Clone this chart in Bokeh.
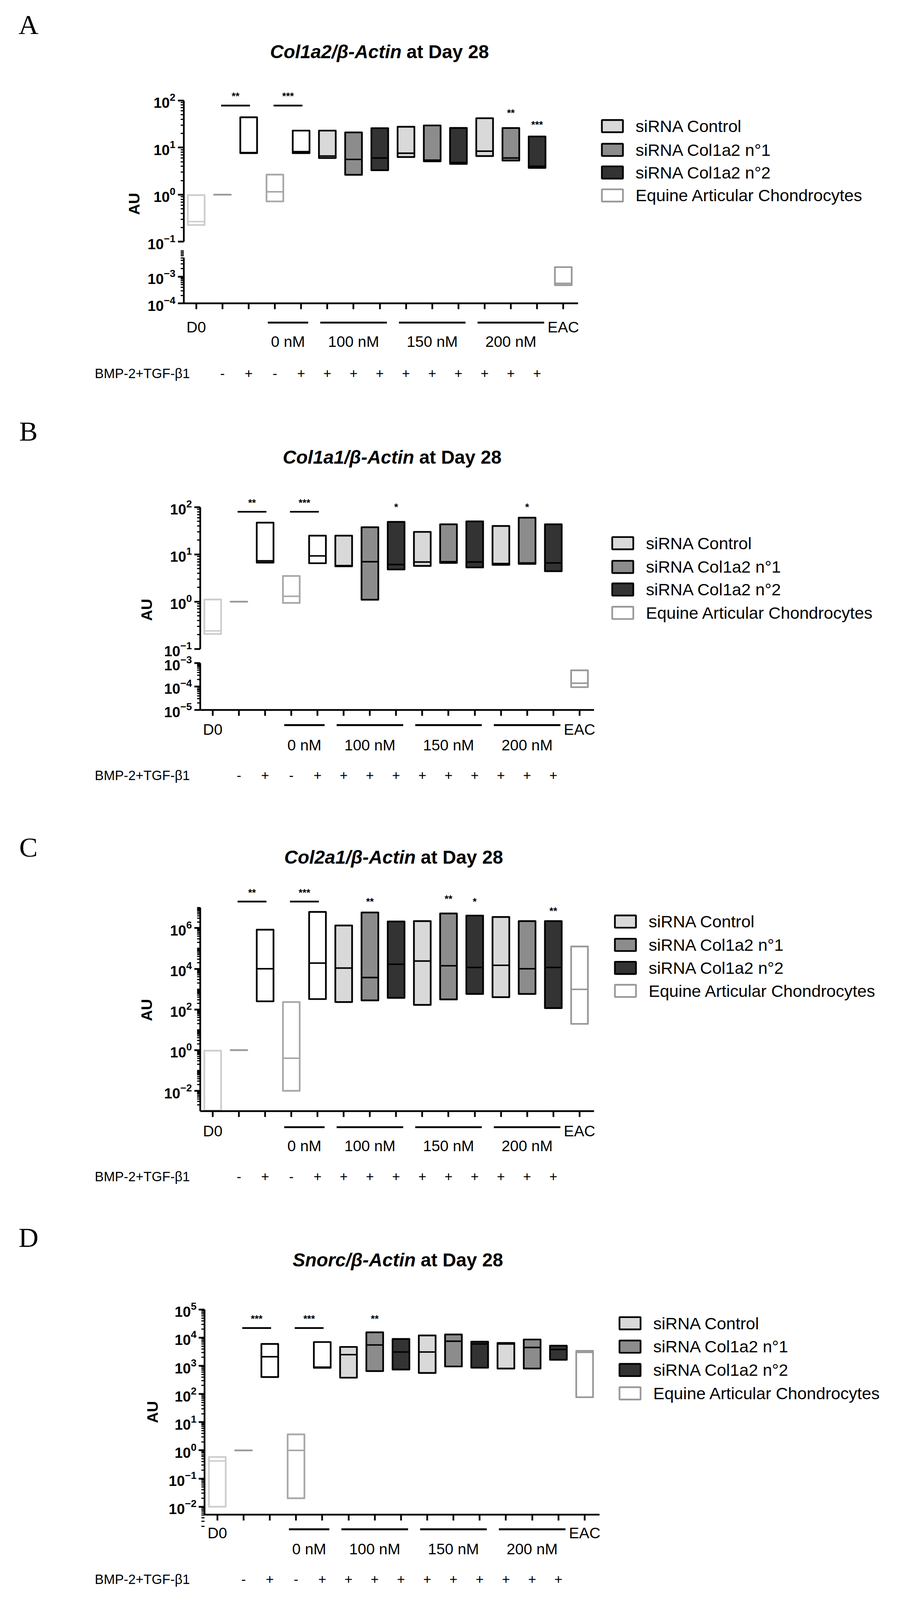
import math
from bokeh.plotting import figure
from bokeh.models import (Range1d, LogScale, LinearScale, LogAxis, LinearAxis,
                          FixedTicker, ColumnDataSource)
from bokeh.embed import file_html
from bokeh.resources import INLINE
from bokeh.core.properties import value

# ---------------------------------------------------------------- data
POSITIONS = list(range(1, 16))
BMP_POSITIONS = list(range(2, 15))
BMP_SIGNS = ["-", "+", "-", "+", "+", "+", "+", "+", "+", "+", "+", "+", "+"]
GROUP_LABELS = ["0 nM", "100 nM", "150 nM", "200 nM"]
GROUP_FIRST = [4, 6, 9, 12]
GROUP_LAST = [5, 8, 11, 14]
END_LABELS = ["D0", "EAC"]
END_POSITIONS = [1, 15]
ROLES = ["d0", "ref", "bmp", "neg", "bmp", "c", "n1", "n2", "c", "n1", "n2", "c", "n1", "n2", "eac"]
LEGEND_LABELS = ["siRNA Control", "siRNA Col1a2 n°1", "siRNA Col1a2 n°2", "Equine Articular Chondrocytes"]
LEGEND_ROLES = ["c", "n1", "n2", "eac"]
GENES = ["Col1a2", "Col1a1", "Col2a1", "Snorc"]
LETTERS = ["A", "B", "C", "D"]
BMP_TEXT = "BMP-2+TGF-β1"

# Panel A : Col1a2
A_MIN = [0.227, 1.0, 7.6, 0.72, 7.6, 6.0, 2.64, 3.3, 6.3, 5.1, 4.5, 6.6, 5.3, 3.7, 4.8e-4]
A_MAX = [0.98, 1.0, 44, 2.67, 22.9, 22.9, 21, 25.8, 27.7, 29.5, 26.1, 42, 26, 17.2, 2.26e-3]
A_MED = [0.268, 1.0, 7.8, 1.15, 8.2, 6.6, 5.6, 6.0, 7.6, 5.4, 4.8, 8.4, 6.0, 4.0, 5.6e-4]
A_BAR_FROM = [2, 4]
A_BAR_TO = [3, 5]
A_BAR_TEXT = ["**", "***"]
A_BAR_Y = [78, 78]
A_BAR_STAR_Y = [125, 125]
A_STAR_X = [13, 14]
A_STAR_TEXT = ["**", "***"]
A_STAR_Y = [54, 31]

# Panel B : Col1a1
B_MIN = [0.207, 1.0, 6.7, 0.94, 6.5, 5.6, 1.1, 4.8, 5.7, 6.6, 5.3, 6.0, 6.3, 4.4, 9.3e-5]
B_MAX = [1.11, 1.0, 47, 3.5, 25, 25, 37.6, 48.9, 30, 43.4, 50, 40, 60, 43.4, 4.9e-4]
B_MED = [0.24, 1.0, 7.3, 1.3, 9.3, 5.8, 7.0, 6.1, 6.9, 7.0, 6.9, 6.4, 6.6, 6.6, 1.37e-4]
B_BAR_FROM = [2, 4]
B_BAR_TO = [3, 5]
B_BAR_TEXT = ["**", "***"]
B_BAR_Y = [80, 80]
B_BAR_STAR_Y = [125, 125]
B_STAR_X = [8, 13]
B_STAR_TEXT = ["*", "*"]
B_STAR_Y = [100, 100]

# Panel C : Col2a1
C_MIN = [1.0e-3, 1.0, 251, 0.01, 323, 230, 278, 372, 167, 310, 578, 400, 578, 116, 19.5]
C_MAX = [0.94, 1.0, 8.3e5, 230, 6.2e6, 1.34e6, 5.8e6, 2.1e6, 2.2e6, 5.2e6, 4.1e6, 3.5e6, 2.2e6, 2.2e6, 1.24e5]
C_MED = [1.1e-3, 1.0, 1.0e4, 0.4, 1.9e4, 1.08e4, 3700, 1.67e4, 2.4e4, 1.4e4, 1.16e4, 1.48e4, 1.0e4, 1.16e4, 970]
C_BAR_FROM = [2, 4]
C_BAR_TO = [3, 5]
C_BAR_TEXT = ["**", "***"]
C_BAR_Y = [2.0e7, 2.0e7]
C_BAR_STAR_Y = [5.5e7, 5.5e7]
C_STAR_X = [7, 10, 11, 14]
C_STAR_TEXT = ["**", "**", "*", "**"]
C_STAR_Y = [2.0e7, 2.7e7, 2.0e7, 6.8e6]

# Panel D : Snorc
D_MIN = [0.01, 1.0, 400, 0.02, 850, 380, 650, 740, 560, 950, 860, 800, 800, 1640, 77]
D_MAX = [0.58, 1.0, 6000, 3.7, 7000, 4700, 1.55e4, 9000, 1.2e4, 1.3e4, 7200, 6500, 8600, 5200, 3400]
D_MED = [0.42, 1.0, 2100, 1.0, 900, 2500, 5500, 3100, 3100, 7500, 6000, 6000, 4500, 3800, 3000]
D_BAR_FROM = [2, 4]
D_BAR_TO = [3, 5]
D_BAR_TEXT = ["***", "***"]
D_BAR_Y = [2.2e4, 2.2e4]
D_BAR_STAR_Y = [4.7e4, 4.7e4]
D_STAR_X = [7]
D_STAR_TEXT = ["**"]
D_STAR_Y = [4.7e4]

# ---------------------------------------------------------------- style / layout
LINE = {"d0": "#cdcdcd", "ref": "#9a9a9a", "bmp": "black", "neg": "#a8a8a8",
        "c": "black", "n1": "black", "n2": "black", "eac": "#999999"}
FILL = {"d0": "white", "ref": "white", "bmp": "white", "neg": "white",
        "c": "#d9d9d9", "n1": "#8c8c8c", "n2": "#333333", "eac": "white"}
FONT = "Liberation Sans"
S = 1 / 1.02          # reference pixels -> page pixels
W, H = 2270, 4080
TOP = 8
BOX_W = 0.64
AX_LEFT = 0.52
AX_RIGHT = 15.56


def R(v):
    return v * S


def fs(size):
    return f"{size * S:.1f}px"


def decade_minors(e0, e1, include_decades=()):
    out = []
    for k in range(e0, e1 + 1):
        for m in range(2, 10):
            out.append(m * 10.0 ** k)
    for k in include_decades:
        out.append(10.0 ** k)
    return out


# layout positions below are in reference pixels
PANELS = [
    dict(tick1=520, step=68.45,
         ycal=(270, 100, 639, 0.1), lowcal=(730, 1e-3, 800, 1e-4),
         ybounds=(0.1, 100), lowbounds=(1e-4, 5.2e-3),
         majors=[0.1, 1, 10, 100], minors=decade_minors(-1, 1),
         lowmajors=[1e-4, 1e-3], lowminors=decade_minors(-4, -3),
         xaxis_val=1e-4, xaxis_low=True,
         line_y=850, end_y=862, lab_y=900, bmp_y=983,
         letter_y=72, title_y=143, split=1056, au=(358, 540),
         leg_x=1579, leg_y=[337, 399, 458, 518]),
    dict(tick1=563, step=68.4,
         ycal=(1332, 100, 1702, 0.1), lowcal=(1739, 1e-3, 1861, 1e-5),
         ybounds=(0.1, 100), lowbounds=(1e-5, 1e-3),
         majors=[0.1, 1, 10, 100], minors=decade_minors(-1, 1),
         lowmajors=[1e-5, 1e-4, 1e-3], lowminors=decade_minors(-5, -4),
         xaxis_val=1e-5, xaxis_low=True,
         line_y=1901, end_y=1912, lab_y=1953, bmp_y=2032,
         letter_y=1134, title_y=1202, split=1089, au=(391, 1600),
         leg_x=1606, leg_y=[1426, 1488, 1547, 1608]),
    dict(tick1=563, step=68.4,
         ycal=(2431, 1e6, 2856, 1e-2), lowcal=None,
         ybounds=(1e-3, 1e7),
         majors=[1e-2, 1, 1e2, 1e4, 1e6],
         minors=decade_minors(-3, 6, include_decades=(-1, 1, 3, 5, 7)),
         xaxis_val=1e-3, xaxis_low=False,
         line_y=2951, end_y=2961, lab_y=3000, bmp_y=3080,
         letter_y=2220, title_y=2246, split=1093, au=(391, 2645),
         leg_x=1613, leg_y=[2414, 2475, 2535, 2595]),
    dict(tick1=575, step=68.5,
         ycal=(3427, 1e5, 3942, 1e-2), lowcal=None,
         ybounds=(5.2e-3, 1e5),
         majors=[1e-2, 1e-1, 1, 10, 1e2, 1e3, 1e4, 1e5],
         minors=decade_minors(-3, 4),
         xaxis_val=5.2e-3, xaxis_low=False,
         line_y=4001, end_y=4011, lab_y=4052, bmp_y=4132,
         letter_y=3239, title_y=3298, split=1093, au=(406, 3695),
         leg_x=1625, leg_y=[3463, 3524, 3585, 3646]),
]


def log_range(pa, va, pb, vb):
    pa, pb = R(pa), R(pb)
    la, lb = math.log10(va), math.log10(vb)
    d = (pb - pa) / (la - lb)
    end = la + (pa - TOP) / d
    start = la - (TOP + H - pa) / d
    return Range1d(start=10 ** start, end=10 ** end)


def style_axis(ax):
    ax.axis_line_width = 4.5 * S
    ax.axis_line_color = "black"
    ax.major_tick_line_width = 4.5 * S
    ax.major_tick_line_color = "black"
    ax.major_tick_out = round(15 * S)
    ax.major_tick_in = 0
    ax.minor_tick_line_width = 3 * S
    ax.minor_tick_line_color = "black"
    ax.minor_tick_out = round(8 * S)
    ax.minor_tick_in = 0
    ax.major_label_text_font = FONT
    ax.major_label_text_font_style = "bold"
    ax.major_label_text_font_size = fs(38)
    ax.major_label_text_color = "black"
    ax.major_label_standoff = 6


def txt(p, x, y, s, size, style="normal", align="center", baseline="middle",
        font=FONT, xr="default", yr="default", angle=0.0, color="black"):
    p.text(x=x, y=y, text=s, x_range_name=xr, y_range_name=yr, angle=angle,
           text_font=value(font), text_font_size=value(fs(size)),
           text_font_style=value(style), text_align=value(align),
           text_baseline=value(baseline), text_color=color)


# one page-sized figure; default ranges are page pixels
p = figure(width=W, height=H, output_backend="svg", toolbar_location=None,
           x_range=Range1d(TOP, TOP + W), y_range=Range1d(TOP + H, TOP),
           x_axis_location=None, y_axis_location=None, min_border=0,
           outline_line_color=None, background_fill_color="white",
           border_fill_color="white")
p.grid.visible = False

xr, yr, ys = {}, {}, {}
for k, cfg in enumerate(PANELS):
    step = R(cfg["step"])
    x0 = 1 - (R(cfg["tick1"]) - TOP) / step
    xr[f"x{k}"] = Range1d(x0, x0 + W / step)
    yr[f"y{k}"] = log_range(*cfg["ycal"])
    ys[f"y{k}"] = LogScale()
    if cfg["lowcal"] is not None:
        yr[f"low{k}"] = log_range(*cfg["lowcal"])
        ys[f"low{k}"] = LogScale()
p.extra_x_ranges = xr
p.extra_y_ranges = yr
p.extra_y_scales = ys

PANEL_DATA = [
    (A_MIN, A_MAX, A_MED, A_BAR_FROM, A_BAR_TO, A_BAR_TEXT, A_BAR_Y, A_BAR_STAR_Y, A_STAR_X, A_STAR_TEXT, A_STAR_Y),
    (B_MIN, B_MAX, B_MED, B_BAR_FROM, B_BAR_TO, B_BAR_TEXT, B_BAR_Y, B_BAR_STAR_Y, B_STAR_X, B_STAR_TEXT, B_STAR_Y),
    (C_MIN, C_MAX, C_MED, C_BAR_FROM, C_BAR_TO, C_BAR_TEXT, C_BAR_Y, C_BAR_STAR_Y, C_STAR_X, C_STAR_TEXT, C_STAR_Y),
    (D_MIN, D_MAX, D_MED, D_BAR_FROM, D_BAR_TO, D_BAR_TEXT, D_BAR_Y, D_BAR_STAR_Y, D_STAR_X, D_STAR_TEXT, D_STAR_Y),
]

for k, cfg in enumerate(PANELS):
    (mins, maxs, meds, bar_from, bar_to, bar_text, bar_y, bar_star_y,
     star_x, star_text, star_y) = PANEL_DATA[k]
    xn, yn = f"x{k}", f"y{k}"
    has_low = cfg["lowcal"] is not None
    ln = f"low{k}" if has_low else yn

    # boxes: min-max floating bars with a median line
    low_flags = [has_low and ROLES[i] == "eac" for i in range(15)]
    for use_low in (False, True):
        idx = [i for i in range(15) if low_flags[i] == use_low]
        if not idx:
            continue
        rng = ln if use_low else yn
        src = ColumnDataSource(dict(
            x=[POSITIONS[i] for i in idx],
            x0=[POSITIONS[i] - BOX_W / 2 for i in idx],
            x1=[POSITIONS[i] + BOX_W / 2 for i in idx],
            lo=[mins[i] for i in idx], hi=[maxs[i] for i in idx],
            med=[meds[i] for i in idx],
            line=[LINE[ROLES[i]] for i in idx], fill=[FILL[ROLES[i]] for i in idx]))
        p.vbar(x="x", width=BOX_W, bottom="lo", top="hi", fill_color="fill",
               line_color="line", line_width=4.5 * S, line_join="round",
               source=src, x_range_name=xn, y_range_name=rng)
        p.segment(x0="x0", x1="x1", y0="med", y1="med", line_color="line",
                  line_width=4 * S, source=src, x_range_name=xn, y_range_name=rng)

    # significance bars and stars
    p.segment(x0=[a - 0.05 for a in bar_from], x1=[b + 0.05 for b in bar_to],
              y0=bar_y, y1=bar_y, line_color="black", line_width=4.5 * S,
              x_range_name=xn, y_range_name=yn)
    txt(p, [(a + b) / 2 for a, b in zip(bar_from, bar_to)], bar_star_y, bar_text,
        26, style="bold", xr=xn, yr=yn)
    txt(p, star_x, star_y, star_text, 26, style="bold", xr=xn, yr=yn)

    # axes
    yax = LogAxis(fixed_location=AX_LEFT, bounds=cfg["ybounds"], x_range_name=xn,
                  y_range_name=yn,
                  ticker=FixedTicker(ticks=cfg["majors"], minor_ticks=cfg["minors"]))
    style_axis(yax)
    p.add_layout(yax, "left")
    if has_low:
        lax = LogAxis(fixed_location=AX_LEFT, bounds=cfg["lowbounds"], x_range_name=xn,
                      y_range_name=ln,
                      ticker=FixedTicker(ticks=cfg["lowmajors"], minor_ticks=cfg["lowminors"]))
        style_axis(lax)
        p.add_layout(lax, "left")
    xax = LinearAxis(fixed_location=cfg["xaxis_val"], x_range_name=xn,
                     y_range_name=ln if cfg["xaxis_low"] else yn,
                     bounds=(AX_LEFT, AX_RIGHT), ticker=FixedTicker(ticks=POSITIONS),
                     major_label_overrides={i: "" for i in POSITIONS})
    style_axis(xax)
    p.add_layout(xax, "below")

    # x annotations
    p.segment(x0=[f - 0.27 for f in GROUP_FIRST], x1=[l + 0.27 for l in GROUP_LAST],
              y0=[R(cfg["line_y"])] * 4, y1=[R(cfg["line_y"])] * 4, x_range_name=xn,
              line_color="black", line_width=5 * S)
    txt(p, [(f + l) / 2 for f, l in zip(GROUP_FIRST, GROUP_LAST)], [R(cfg["lab_y"])] * 4,
        GROUP_LABELS, 40, xr=xn)
    txt(p, END_POSITIONS, [R(cfg["end_y"])] * 2, END_LABELS, 40, xr=xn)
    txt(p, BMP_POSITIONS, [R(cfg["bmp_y"])] * len(BMP_POSITIONS), BMP_SIGNS, 36, xr=xn)
    txt(p, [R(255)], [R(cfg["bmp_y"])], [BMP_TEXT], 35, align="left")

    # panel letter, title, y label
    txt(p, [R(82)], [R(cfg["letter_y"])], [LETTERS[k]], 72, font="Liberation Serif")
    txt(p, [R(cfg["split"])], [R(cfg["title_y"])], [GENES[k] + "/β-Actin"], 49,
        style="bold italic", align="right")
    txt(p, [R(cfg["split"] + 13)], [R(cfg["title_y"])], ["at Day 28"], 49, style="bold",
        align="left")
    txt(p, [R(cfg["au"][0])], [R(cfg["au"][1])], ["AU"], 40, style="bold",
        angle=math.pi / 2)

    # legend
    lx = cfg["leg_x"]
    p.quad(left=[R(lx)] * 4, right=[R(lx + 55)] * 4,
           top=[R(y - 16) for y in cfg["leg_y"]], bottom=[R(y + 16) for y in cfg["leg_y"]],
           fill_color=[FILL[r] for r in LEGEND_ROLES],
           line_color=[LINE[r] for r in LEGEND_ROLES], line_width=4.5 * S)
    txt(p, [R(lx + 88)] * 4, [R(y) for y in cfg["leg_y"]], LEGEND_LABELS, 44, align="left")

open("out.html", "w").write(file_html(p, INLINE))
